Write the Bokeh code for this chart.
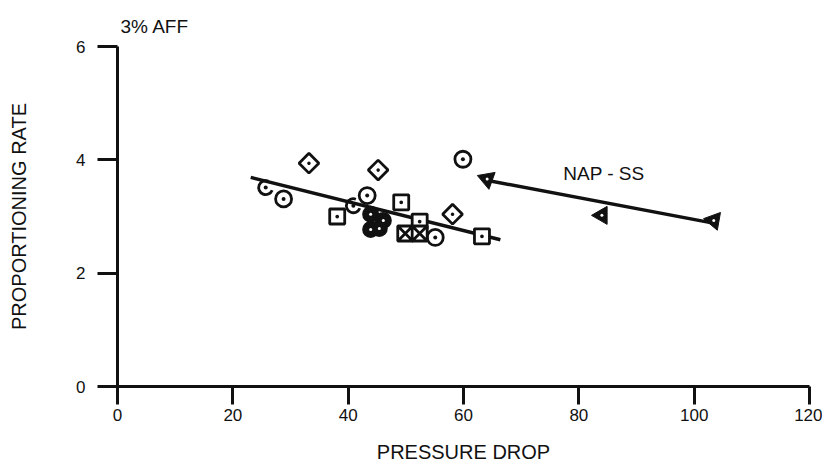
import math
from bokeh.plotting import figure
from bokeh.models import Range1d, FixedTicker, Label
from bokeh.embed import file_html
from bokeh.resources import INLINE

# ---- data ----
circle_x = [28.8, 43.3, 59.9, 55.1]
circle_y = [3.31, 3.37, 4.01, 2.63]

diamond_x = [33.2, 45.2, 58.1]
diamond_y = [3.94, 3.82, 3.04]

square_x = [38.1, 49.2, 52.4, 63.2]
square_y = [3.00, 3.25, 2.91, 2.65]

xsquare_x = [49.9, 52.4]
xsquare_y = [2.70, 2.70]

half_x = [25.7, 40.9]
half_y = [3.51, 3.19]

cluster_x = [43.9, 46.1, 43.9, 45.4]
cluster_y = [3.04, 2.93, 2.77, 2.79]

nap_x = [64.1, 84.0, 103.4]
nap_y = [3.66, 3.02, 2.93]
nap_angle_deg = [70, 210, 80]

fit_aff_x = [23.1, 66.4]
fit_aff_y = [3.69, 2.59]

fit_nap_x = [64.0, 104.0]
fit_nap_y = [3.64, 2.87]

x_ticks = [0, 20, 40, 60, 80, 100, 120]
y_ticks = [0, 2, 4, 6]

FONT = "Liberation Sans"
INK = "#111111"

p = figure(width=822, height=468, output_backend="svg", toolbar_location=None,
           x_range=Range1d(0, 120), y_range=Range1d(0, 6),
           min_border_left=117, min_border_right=13,
           min_border_top=46, min_border_bottom=82,
           title="3% AFF")
p.outline_line_color = None
p.xgrid.visible = False
p.ygrid.visible = False
p.background_fill_color = "white"

p.title.align = "left"
p.title.offset = 3
p.title.standoff = 19
p.title.text_font = FONT
p.title.text_font_size = "19px"
p.title.text_font_style = "normal"
p.title.text_color = INK

for ax in (p.xaxis[0], p.yaxis[0]):
    ax.axis_line_color = INK
    ax.axis_line_width = 3
    ax.major_tick_line_color = INK
    ax.major_tick_line_width = 3
    ax.major_tick_in = 0
    ax.minor_tick_line_color = None
    ax.major_label_text_font = FONT
    ax.major_label_text_font_size = "17px"
    ax.major_label_text_color = INK
    ax.axis_label_text_font = FONT
    ax.axis_label_text_font_size = "20px"
    ax.axis_label_text_font_style = "normal"
    ax.axis_label_text_color = INK

p.xaxis.ticker = FixedTicker(ticks=x_ticks)
p.yaxis.ticker = FixedTicker(ticks=y_ticks)
p.xaxis.major_tick_out = 18
p.yaxis.major_tick_out = 20
p.xaxis.major_label_standoff = 4
p.yaxis.major_label_standoff = 12
p.xaxis.axis_label = "PRESSURE DROP"
p.yaxis.axis_label = "PROPORTIONING RATE"
p.xaxis.axis_label_standoff = 17
p.yaxis.axis_label_standoff = 43

# regression lines
p.line(fit_aff_x, fit_aff_y, line_color=INK, line_width=3.5)
p.line(fit_nap_x, fit_nap_y, line_color=INK, line_width=3.5)

# markers
p.scatter(circle_x, circle_y, marker="circle_dot", size=16, line_width=2.8,
          line_color=INK, fill_color="white")
p.scatter(diamond_x, diamond_y, marker="square_dot", size=14, line_width=2.8,
          angle=math.radians(45), line_color=INK, fill_color="white")
p.scatter(square_x, square_y, marker="square_dot", size=15, line_width=2.8,
          line_color=INK, fill_color="white")
p.scatter(xsquare_x, xsquare_y, marker="square_x", size=15, line_width=2.8,
          line_color=INK, fill_color="white")
p.arc(half_x, half_y, radius=7, radius_units="screen",
      start_angle=1.2, end_angle=5.9, line_color=INK, line_width=2.8)
p.scatter(half_x, half_y, marker="circle", size=4, line_color=None, fill_color=INK)
p.scatter(cluster_x, cluster_y, marker="circle", size=15, line_width=2,
          line_color=INK, fill_color=INK)
p.scatter(cluster_x, cluster_y, marker="circle", size=3, line_color=None,
          fill_color="white")

p.scatter(nap_x, nap_y, marker="triangle", size=18,
          angle=[math.radians(a) for a in nap_angle_deg],
          line_color=INK, fill_color=INK, line_width=1)
p.scatter(nap_x, nap_y, marker="circle", size=3, line_color=None, fill_color="white")

# annotation
p.add_layout(Label(x=77.3, y=3.76, text="NAP - SS", text_font=FONT,
                   text_font_size="19px", text_color=INK,
                   text_baseline="middle", text_align="left"))

open("out.html", "w").write(file_html(p, INLINE))
